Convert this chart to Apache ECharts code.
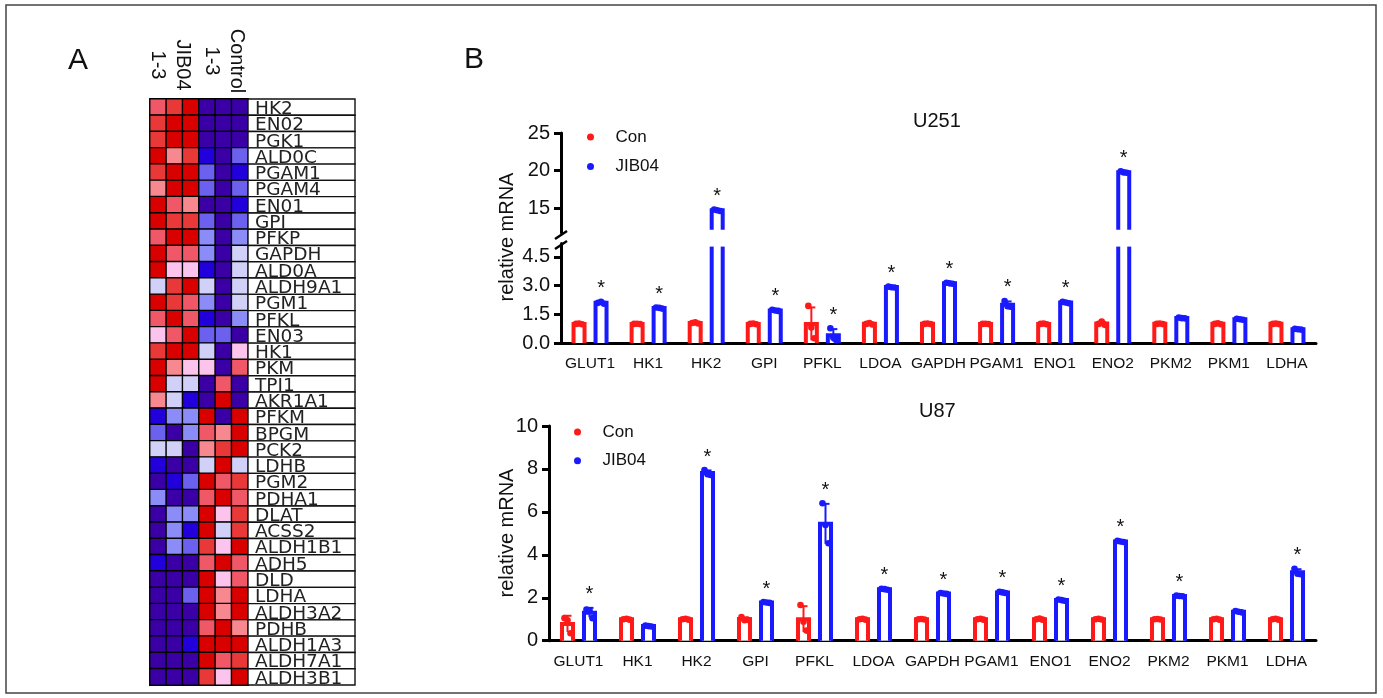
<!DOCTYPE html>
<html>
<head>
<meta charset="utf-8">
<script src="https://cdn.jsdelivr.net/npm/echarts@6/dist/echarts.min.js"></script>
<style>
  html, body { margin: 0; padding: 0; background: #fff; }
  #main { width: 1383px; height: 698px; }
</style>
</head>
<body>
<div id="main"></div>
<script>
// ---- panel A: heatmap ----
var heatGenes = ['HK2','EN02','PGK1','ALD0C','PGAM1','PGAM4','EN01','GPI','PFKP','GAPDH','ALD0A','ALDH9A1',
  'PGM1','PFKL','EN03','HK1','PKM','TPI1','AKR1A1','PFKM','BPGM','PCK2','LDHB','PGM2','PDHA1','DLAT',
  'ACSS2','ALDH1B1','ADH5','DLD','LDHA','ALDH3A2','PDHB','ALDH1A3','ALDH7A1','ALDH3B1'];
var heatCols = ['JIB04-1','JIB04-2','JIB04-3','Control-1','Control-2','Control-3'];
// colour level per cell, -5 (dark blue) .. 5 (dark red)
var heatLevels = [
  [3,4,5,-5,-5,-5], [4,5,5,-5,-5,-5], [4,5,5,-5,-5,-5], [5,2,4,-4,-5,-3],
  [4,5,5,-3,-5,-4], [2,5,5,-3,-5,-3], [5,3,2,-5,-5,-4], [5,4,4,-3,-5,-3],
  [3,5,5,-2,-5,-2], [5,3,3,-2,-5,-1], [5,1,1,-4,-5,-1], [-1,4,5,-1,-5,-1],
  [5,4,3,-2,-5,-1], [3,5,3,-4,-5,-2], [1,3,5,-3,-3,-5], [4,5,5,-1,-5,1],
  [5,2,1,1,-5,3], [5,-1,-1,-5,3,-5], [2,-1,-4,-5,5,-5], [-4,-2,-2,5,-5,5],
  [-3,-5,-2,3,2,5], [-1,-1,-5,2,4,5], [-4,-5,-5,-1,5,-1], [-5,-4,-3,5,3,4],
  [-2,-5,-5,3,5,3], [-5,-2,-2,5,1,4], [-5,-2,-4,5,-1,4], [-5,-2,-3,4,1,5],
  [-4,-5,-5,3,5,3], [-5,-5,-5,5,1,3], [-5,-5,-3,5,2,5], [-5,-5,-5,5,2,5],
  [-5,-5,-5,3,5,2], [-5,-5,-4,5,5,5], [-5,-5,-5,5,3,4], [-5,-5,-5,4,1,5]
];

// ---- panel B: qPCR ----
var genesB = ['GLUT1','HK1','HK2','GPI','PFKL','LDOA','GAPDH','PGAM1','ENO1','ENO2','PKM2','PKM1','LDHA'];

var u251Con = [[1.0,1.02,0.98],[1.0,1.01,0.99],[1.05,1.08,1.02],[1.0,1.02,0.98],[1.94,0.81,0.25],
  [1.0,1.05,0.97],[1.0,1.02,0.99],[1.0,1.01,0.99],[1.0,1.02,0.98],[1.0,1.12,0.95],
  [1.0,1.02,0.99],[1.0,1.03,0.98],[1.0,1.02,0.99]];
var u251Jib = [[2.1,2.15,2.05],[1.86,1.84,1.8],[14.8,14.7,14.6],[1.74,1.7,1.68],[0.77,0.28,0.15],
  [2.95,2.92,2.9],[3.15,3.12,3.1],[2.2,1.92,1.9],[2.15,2.12,2.08],[19.9,19.75,19.7],
  [1.33,1.3,1.29],[1.27,1.24,1.22],[0.74,0.72,0.7]];
var u251Sig = [1,1,1,1,1,1,1,1,1,1,0,0,0];

var u87Con = [[1.05,0.95,0.35],[1.0,1.02,0.98],[1.0,1.02,0.98],[1.1,0.95,0.97],[1.66,0.88,0.47],
  [1.0,1.02,0.98],[1.0,1.01,0.99],[1.0,1.02,0.98],[1.0,1.03,0.98],[1.0,1.02,0.99],
  [1.0,1.01,0.99],[1.0,1.02,0.98],[1.0,1.02,0.98]];
var u87Jib = [[1.45,1.42,1.05],[0.7,0.68,0.66],[7.95,7.75,7.72],[1.8,1.78,1.76],[6.4,5.39,4.54],
  [2.42,2.4,2.37],[2.22,2.2,2.18],[2.28,2.25,2.22],[1.92,1.89,1.86],[4.65,4.62,4.6],
  [2.1,2.08,2.07],[1.38,1.35,1.32],[3.35,3.12,3.1]];
var u87Sig = [1,0,1,1,1,1,1,1,1,1,1,0,1];

var u251HighTicks = [15, 20, 25];
var u251LowTicks = [0, 1.5, 3, 4.5];
var u87Ticks = [0, 2, 4, 6, 8, 10];

var RED = '#ff1a1a', BLUE = '#1a1aff';
var FONT = '"Liberation Sans", Arial, sans-serif';
var BRK_HI = 11.7, BRK_LO = 5.2;

function mean(a) { return (a[0] + a[1] + a[2]) / 3; }
function sd(a) {
  var m = mean(a), s = 0;
  a.forEach(function (v) { s += (v - m) * (v - m); });
  return Math.sqrt(s / (a.length - 1));
}

var myChart = echarts.init(document.getElementById('main'));

// hollow bar + error bar + replicate dots + asterisk, one series per group and grid
// part: 'upper' = piece above the axis break, 'lower' = normal axis
function groupSeries(name, reps, sig, color, side, xi, yi, part) {
  var data = reps.map(function (r, i) {
    return [i, mean(r), sd(r), r[0], r[1], r[2], sig ? sig[i] : 0];
  });
  if (part === 'upper') data = data.filter(function (d) { return d[1] > BRK_HI; });
  return {
    type: 'custom', name: name, xAxisIndex: xi, yAxisIndex: yi, z: 5, silent: true,
    data: data,
    renderItem: function (params, api) {
      var cs = params.coordSys;
      var gTop = cs.y, gBot = cs.y + cs.height;
      var i = api.value(0), m = api.value(1), s = api.value(2);
      var pt = api.coord([i, m]);
      var x = pt[0] + side * 11, yVal = pt[1];
      var hw = 5.5;
      var kids = [];
      if (yVal < gTop - 1) {
        // bar goes on past the break: only the two sides
        kids.push({ type: 'rect', shape: { x: x - hw, y: gTop, width: 2 * hw, height: gBot - gTop }, style: { fill: '#fff' } });
        kids.push({ type: 'line', shape: { x1: x - hw, y1: gTop + 3, x2: x - hw, y2: gBot }, style: { stroke: color, lineWidth: 4 } });
        kids.push({ type: 'line', shape: { x1: x + hw, y1: gTop + 3, x2: x + hw, y2: gBot }, style: { stroke: color, lineWidth: 4 } });
        return { type: 'group', children: kids };
      }
      var bBot = part === 'upper' ? gBot - 3 : gBot;
      kids.push({ type: 'rect', shape: { x: x - hw, y: yVal, width: 2 * hw, height: gBot - yVal }, style: { fill: '#fff' } });
      kids.push({ type: 'polyline', shape: { points: [[x - hw, bBot], [x - hw, yVal], [x + hw, yVal], [x + hw, bBot]] },
        style: { stroke: color, lineWidth: 4, fill: null } });
      var yTop = api.coord([i, m + s])[1];
      var yBot = Math.min(api.coord([i, m - s])[1], gBot);
      kids.push({ type: 'line', shape: { x1: x, y1: yTop, x2: x, y2: yBot }, style: { stroke: color, lineWidth: 2 } });
      kids.push({ type: 'line', shape: { x1: x - 4, y1: yTop, x2: x + 4, y2: yTop }, style: { stroke: color, lineWidth: 2 } });
      var spread = [-3, 0, 3];
      var minY = yTop;
      for (var k = 0; k < 3; k++) {
        var p = api.coord([i, api.value(3 + k)]);
        kids.push({ type: 'circle', shape: { cx: x + spread[k], cy: p[1], r: 3.3 }, style: { fill: color } });
        minY = Math.min(minY, p[1]);
      }
      if (api.value(6)) {
        kids.push({ type: 'text', x: x, y: minY - 3,
          style: { text: '*', fill: '#111', font: '20px ' + FONT,
            align: 'center', textAlign: 'center', verticalAlign: 'bottom', textVerticalAlign: 'bottom' } });
      }
      return { type: 'group', children: kids };
    }
  };
}

function catAxis(grid, show) {
  return {
    type: 'category', gridIndex: grid, data: genesB, show: show,
    axisLine: { lineStyle: { color: '#000', width: 3 } },
    axisTick: { alignWithLabel: true, interval: 0, length: 7, lineStyle: { color: '#000', width: 3 } },
    axisLabel: { interval: 0, margin: 13, color: '#111', fontSize: 15.5, fontFamily: FONT }
  };
}

function valAxis(grid, min, max, ticks, fmt) {
  return {
    type: 'value', gridIndex: grid, min: min, max: max,
    splitLine: { show: false },
    axisLine: { show: true, lineStyle: { color: '#000', width: 3 } },
    axisTick: { show: true, length: 7, customValues: ticks, lineStyle: { color: '#000', width: 3 } },
    axisLabel: { customValues: ticks, margin: 11, color: '#111', fontSize: 20, fontFamily: FONT,
      formatter: fmt }
  };
}

var heatData = [];
heatLevels.forEach(function (row, r) {
  row.forEach(function (v, c) { heatData.push([c, r, v]); });
});

var legendBase = {
  orient: 'vertical', icon: 'circle', itemWidth: 40, itemHeight: 7, padding: 0,
  textStyle: { fontSize: 17, color: '#111', fontFamily: FONT, lineHeight: 20 },
  data: [{ name: 'Con', itemStyle: { color: RED } }, { name: 'JIB04', itemStyle: { color: BLUE } }],
  selectedMode: false
};

var option = {
  animation: false,
  backgroundColor: '#fff',
  textStyle: { fontFamily: FONT },
  title: [
    { text: 'U251', left: 913, top: 111, padding: 0, textStyle: { fontSize: 20, fontWeight: 'normal', color: '#111', fontFamily: FONT } },
    { text: 'U87', left: 919, top: 401, padding: 0, textStyle: { fontSize: 20, fontWeight: 'normal', color: '#111', fontFamily: FONT } }
  ],
  legend: [
    Object.assign({}, legendBase, { left: 587, top: 127, itemGap: 9.4 }),
    Object.assign({}, legendBase, { left: 574, top: 422, itemGap: 8.7 })
  ],
  visualMap: {
    type: 'piecewise', show: false, seriesIndex: 0, dimension: 2,
    pieces: [
      { value: 5, color: '#d90000' }, { value: 4, color: '#e83838' }, { value: 3, color: '#f05868' },
      { value: 2, color: '#f88890' }, { value: 1, color: '#fcc4ec' }, { value: -1, color: '#d0d0f8' },
      { value: -2, color: '#8c8cf8' }, { value: -3, color: '#6c60ee' }, { value: -4, color: '#2200dc' },
      { value: -5, color: '#3a00a6' }
    ]
  },
  grid: [
    { left: 150, top: 99, width: 98, height: 586, outerBoundsMode: 'none' },
    { left: 248, top: 99, width: 107, height: 586, outerBoundsMode: 'none' },
    { left: 561, top: 133, width: 755, height: 99.75, outerBoundsMode: 'none' },
    { left: 561, top: 243.6, width: 755, height: 99.4, outerBoundsMode: 'none' },
    { left: 549, top: 426, width: 767, height: 214.7, outerBoundsMode: 'none' }
  ],
  xAxis: [
    { type: 'category', gridIndex: 0, data: heatCols, show: false },
    { type: 'category', gridIndex: 1, data: ['gene'], show: false },
    catAxis(2, false),
    catAxis(3, true),
    catAxis(4, true)
  ],
  yAxis: [
    { type: 'category', gridIndex: 0, data: heatGenes, inverse: true, show: false },
    { type: 'category', gridIndex: 1, data: heatGenes, inverse: true, show: false },
    valAxis(2, BRK_HI, 25, u251HighTicks, function (v) { return String(v); }),
    valAxis(3, 0, BRK_LO, u251LowTicks, function (v) { return v.toFixed(1); }),
    valAxis(4, 0, 10, u87Ticks, function (v) { return String(v); })
  ],
  series: [
    {
      type: 'heatmap', xAxisIndex: 0, yAxisIndex: 0, data: heatData, silent: true,
      itemStyle: { borderColor: '#000', borderWidth: 1.4 }
    },
    {
      type: 'custom', xAxisIndex: 1, yAxisIndex: 1, silent: true,
      data: heatGenes.map(function (g, i) { return [0, i]; }),
      renderItem: function (params, api) {
        var idx = api.value(1);
        var c = api.coord([0, idx]);
        var sz = api.size([1, 1]);
        var x0 = c[0] - sz[0] / 2, y0 = c[1] - sz[1] / 2;
        return { type: 'group', children: [
          { type: 'rect', shape: { x: x0, y: y0, width: sz[0], height: sz[1] },
            style: { fill: '#fff', stroke: '#111', lineWidth: 1.4 } },
          { type: 'text', x: x0 + 7, y: y0 + sz[1] / 2 + 2,
            style: { text: heatGenes[idx], fill: '#222', font: '18.5px "DejaVu Sans"',
              verticalAlign: 'middle', textVerticalAlign: 'middle' } }
        ] };
      }
    },
    // U251 upper part (above break)
    groupSeries('Con', u251Con, null, RED, -1, 2, 2, 'upper'),
    groupSeries('JIB04', u251Jib, u251Sig, BLUE, 1, 2, 2, 'upper'),
    // U251 lower part
    groupSeries('Con', u251Con, null, RED, -1, 3, 3, 'lower'),
    groupSeries('JIB04', u251Jib, u251Sig, BLUE, 1, 3, 3, 'lower'),
    // U87
    groupSeries('Con', u87Con, null, RED, -1, 4, 4, 'lower'),
    groupSeries('JIB04', u87Jib, u87Sig, BLUE, 1, 4, 4, 'lower')
  ],
  graphic: [
    { type: 'rect', shape: { x: 6, y: 5, width: 1370, height: 688 }, style: { fill: 'none', stroke: '#444', lineWidth: 1.5 }, silent: true },
    { type: 'text', x: 78, y: 61, style: { text: 'A', font: '30px ' + FONT, fill: '#111', align: 'center', textAlign: 'center', verticalAlign: 'middle', textVerticalAlign: 'middle' } },
    { type: 'text', x: 474, y: 60, style: { text: 'B', font: '30px ' + FONT, fill: '#111', align: 'center', textAlign: 'center', verticalAlign: 'middle', textVerticalAlign: 'middle' } },
    { type: 'text', x: 170.5, y: 65, rotation: -Math.PI / 2,
      style: { text: 'JIB04\n1-3', font: '20px ' + FONT, lineHeight: 25, fill: '#111', align: 'center', textAlign: 'center', verticalAlign: 'middle', textVerticalAlign: 'middle' } },
    { type: 'text', x: 224.5, y: 61, rotation: -Math.PI / 2,
      style: { text: 'Control\n1-3', font: '20px ' + FONT, lineHeight: 25, fill: '#111', align: 'center', textAlign: 'center', verticalAlign: 'middle', textVerticalAlign: 'middle' } },
    { type: 'text', x: 507, y: 237, rotation: Math.PI / 2,
      style: { text: 'relative mRNA', font: '20px ' + FONT, fill: '#111', align: 'center', textAlign: 'center', verticalAlign: 'middle', textVerticalAlign: 'middle' } },
    { type: 'text', x: 507, y: 533, rotation: Math.PI / 2,
      style: { text: 'relative mRNA', font: '20px ' + FONT, fill: '#111', align: 'center', textAlign: 'center', verticalAlign: 'middle', textVerticalAlign: 'middle' } },
    // axis break marks
    { type: 'line', shape: { x1: 555, y1: 239, x2: 567, y2: 231 }, style: { stroke: '#000', lineWidth: 2.5 } },
    { type: 'line', shape: { x1: 555, y1: 249, x2: 567, y2: 241 }, style: { stroke: '#000', lineWidth: 2.5 } }
  ]
};

myChart.setOption(option);
</script>
</body>
</html>
